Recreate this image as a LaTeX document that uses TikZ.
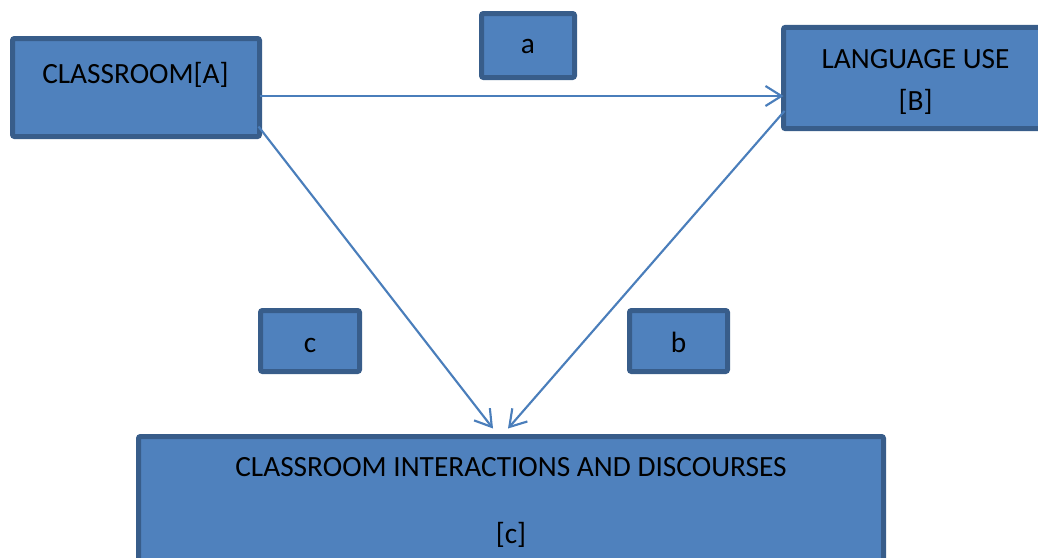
\documentclass[tikz,border=0pt]{standalone}
\usepackage{fontspec}
\setmainfont{Carlito}
\usetikzlibrary{arrows.meta,calc}
\definecolor{boxfill}{HTML}{4F81BD}
\definecolor{boxline}{HTML}{385D8A}
\definecolor{arrline}{HTML}{4A7EBB}
\tikzset{
  box/.style={draw=boxline, fill=boxfill, line width=3.75pt, rounded corners=1.5pt, inner sep=0pt, outer sep=0pt},
  lbl/.style={anchor=base, inner sep=0pt, font=\fontsize{22}{26}\selectfont, text=black},
  conn/.style={draw=arrline, line width=1.6pt, -{Straight Barb[length=12pt,width=15pt,line width=1.6pt]}}
}
\begin{document}
\begin{tikzpicture}[x=0.75pt,y=-0.75pt]
\useasboundingbox (0,0) rectangle (1038,557);
\clip (0,0) rectangle (1038,557);
% boxes
\node[box, minimum width=185.25pt, minimum height=73.5pt] (A) at (136,87.5) {};
\node[box, minimum width=69.75pt, minimum height=48pt] (a) at (528,45.5) {};
\node[box, minimum width=216pt, minimum height=76pt] (B) at (927.5,78) {};
\node[box, minimum width=74.25pt, minimum height=45.75pt] (c) at (310,341) {};
\node[box, minimum width=73.5pt, minimum height=45.75pt] (b) at (678.5,341) {};
\node[box, minimum width=558.75pt, minimum height=113.25pt] (C) at (511,512) {};
% texts
\node[lbl] (tA) at (135.5,83) {CLASSROOM[A]};
\node[lbl] (ta) at (528,53) {a};
\node[lbl] (tB1) at (915.5,68) {LANGUAGE USE};
\node[lbl] (tB2) at (915.5,110) {[B]};
\node[lbl] (tc) at (310,352) {c};
\node[lbl] (tb) at (678.5,352) {b};
\node[lbl] (tC1) at (511,476) {CLASSROOM INTERACTIONS AND DISCOURSES};
\node[lbl] (tC2) at (511,543) {[c]};
% connectors
\coordinate (A1) at ($(A.east)+(0,8.5)$);
\coordinate (A2) at ($(A.south east)+(-1,-10)$);
\coordinate (B1) at (A1 -| B.west);
\coordinate (B2) at ($(B.west)+(1,33)$);
\coordinate (C1) at ($(C.north)+(-18,-8)$);
\coordinate (C2) at ($(C.north)+(-3,-8)$);
\path[conn] (A1) -- (B1);
\path[conn] (A2) -- (C1);
\path[conn] (B2) -- (C2);
\end{tikzpicture}
\end{document}
